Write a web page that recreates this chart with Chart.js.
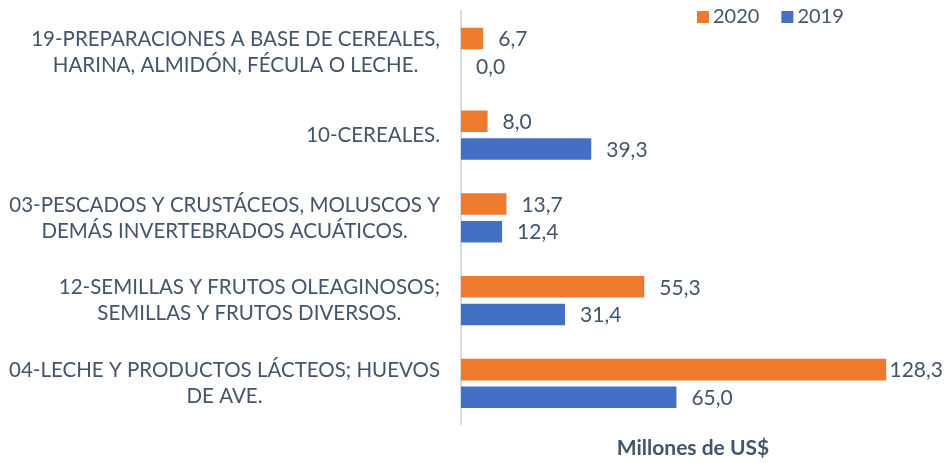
<!DOCTYPE html>
<html>
<head>
<meta charset="utf-8">
<script src="https://cdn.jsdelivr.net/npm/chart.js@4/dist/chart.umd.min.js"></script>
<style>
  html, body { margin: 0; padding: 0; background: #fff; }
  #wrap { width: 947px; height: 463px; }
</style>
</head>
<body>
<div id="wrap"><canvas id="myChart"></canvas></div>
<script>
// categories (each one split in lines like the original)
const categories = [
  ['19-PREPARACIONES A BASE DE CEREALES,', 'HARINA, ALMIDÓN, FÉCULA O LECHE.'],
  ['10-CEREALES.'],
  ['03-PESCADOS Y CRUSTÁCEOS, MOLUSCOS Y', 'DEMÁS INVERTEBRADOS ACUÁTICOS.'],
  ['12-SEMILLAS Y FRUTOS OLEAGINOSOS;', 'SEMILLAS Y FRUTOS DIVERSOS.'],
  ['04-LECHE Y PRODUCTOS LÁCTEOS; HUEVOS', 'DE AVE.']
]
const values2020 = [6.7, 8.0, 13.7, 55.3, 128.3]
const values2019 = [0.0, 39.3, 12.4, 31.4, 65.0]
const seriesNames = ['2020', '2019']
const axisTitle = 'Millones de US$'

const textColor = '#44546A'
const fontFam = 'Lato, "Open Sans", sans-serif'

function fmt(v){
  return v.toFixed(1).replace('.', ',')
}

// labels, value labels and legend drawn by hand
const customDraw = {
  id: 'customDraw',
  afterDatasetsDraw(chart){
    const ctx = chart.ctx
    const yScale = chart.scales.y
    ctx.save()
    ctx.fillStyle = textColor

    // category labels: block right aligned, lines centered inside block
    ctx.font = '20.5px ' + fontFam
    ctx.textBaseline = 'middle'
    ctx.textAlign = 'center'
    const lineH = 26
    categories.forEach((lines, i) => {
      const yc = yScale.getPixelForValue(i)
      const w = Math.max(...lines.map(l => ctx.measureText(l).width))
      const cx = chart.chartArea.left - 21 - w / 2
      lines.forEach((l, k) => {
        ctx.fillText(l, cx, yc + (k - (lines.length - 1) / 2) * lineH)
      })
    })

    // value labels
    ctx.font = '21px ' + fontFam
    ctx.textAlign = 'left'
    chart.data.datasets.forEach((ds, di) => {
      const meta = chart.getDatasetMeta(di)
      meta.data.forEach((bar, i) => {
        const txt = fmt(ds.data[i])
        const tw = ctx.measureText(txt).width
        let x = bar.x + 15
        if (x + tw > chart.width - 4) x = chart.width - 4 - tw
        ctx.fillText(txt, x, bar.y + 1)
      })
    })

    // legend
    ctx.font = '20px ' + fontFam
    let lx = 697
    const ly = 17
    chart.data.datasets.forEach(ds => {
      ctx.fillStyle = ds.backgroundColor
      ctx.fillRect(lx, ly - 6, 12, 12)
      ctx.fillStyle = textColor
      ctx.fillText(ds.label, lx + 16, ly)
      lx += 16 + ctx.measureText(ds.label).width + 22
    })
    ctx.restore()
  }
}

new Chart('myChart', {
  type: 'bar',
  data: {
    labels: categories,
    datasets: [
      {
        label: seriesNames[0],
        data: values2020,
        backgroundColor: '#EE7A2E',
        categoryPercentage: 0.667,
        barPercentage: 0.78
      },
      {
        label: seriesNames[1],
        data: values2019,
        backgroundColor: '#4370C4',
        categoryPercentage: 0.667,
        barPercentage: 0.78
      }
    ]
  },
  options: {
    indexAxis: 'y',
    responsive: true,
    maintainAspectRatio: false,
    animation: false,
    layout: {
      padding: { top: 11, right: 22, bottom: 2, left: 0 }
    },
    plugins: {
      legend: { display: false },
      tooltip: { enabled: false }
    },
    scales: {
      x: {
        min: 0,
        max: 140,
        grid: { display: false },
        border: { display: false },
        ticks: { display: false },
        title: {
          display: true,
          text: axisTitle,
          color: textColor,
          font: { family: fontFam, size: 21, weight: 'bold' },
          padding: { top: 3, bottom: 0 }
        }
      },
      y: {
        grid: { display: false },
        border: { display: true, color: '#D9DDE3', width: 2 },
        ticks: { display: false },
        afterFit(scale){
          scale.width = 461
        }
      }
    }
  },
  plugins: [customDraw]
});
</script>
</body>
</html>
